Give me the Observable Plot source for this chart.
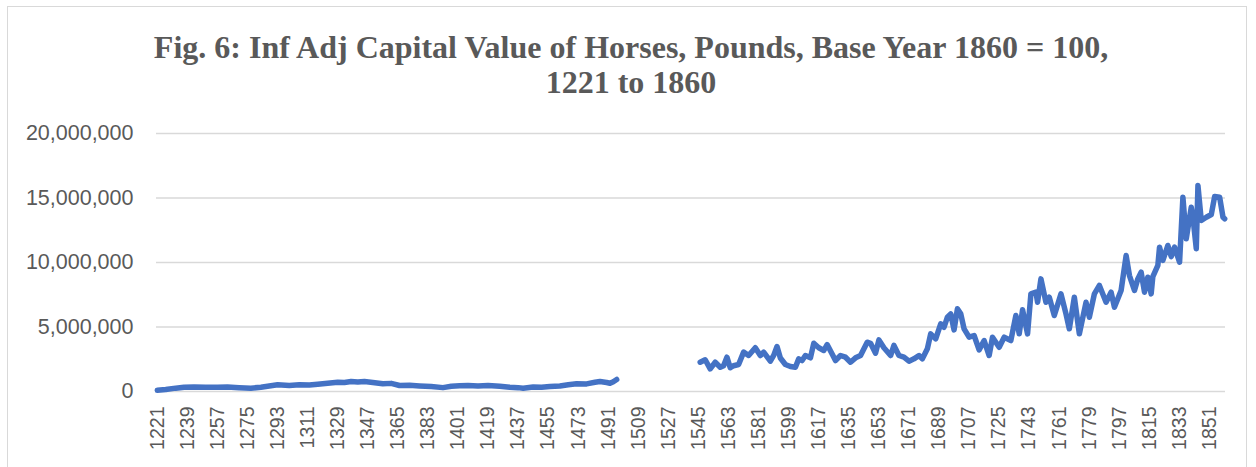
<!DOCTYPE html>
<html>
<head>
<meta charset="utf-8">
<script src="https://cdn.jsdelivr.net/npm/d3@7"></script>
<script src="https://cdn.jsdelivr.net/npm/@observablehq/plot@0.6"></script>
<style>
  html, body { margin: 0; padding: 0; background: #fff; }
  #wrap { position: relative; width: 1256px; height: 467px; overflow: hidden; }
  #frame { position: absolute; left: 7px; top: 6px; width: 1240px; height: 480px; border: 1px solid #d9d9d9; box-sizing: border-box; }
  #title { position: relative; height: 113px; box-sizing: border-box; padding-top: 30px; text-align: center;
           font-family: "Liberation Serif", "Times New Roman", serif; font-weight: bold; font-size: 32px;
           line-height: 35px; color: #595959; padding-left: 6px; white-space: nowrap; }
  #chart { position: relative; }
</style>
</head>
<body>
<div id="wrap">
  <div id="frame"></div>
  <div id="title">Fig. 6: Inf Adj Capital Value of Horses, Pounds, Base Year 1860 = 100,<br>1221 to 1860</div>
  <div id="chart"></div>
</div>
<script>
// Tick labels
const xTickYears = [1221,1239,1257,1275,1293,1311,1329,1347,1365,1383,1401,1419,1437,1455,1473,1491,1509,1527,1545,1563,1581,1599,1617,1635,1653,1671,1689,1707,1725,1743,1761,1779,1797,1815,1833,1851];
const yTickValues = [0, 5000000, 10000000, 15000000, 20000000];

// Series, segment 1 (1221-1496)
const years1 = [1221,1226,1232,1237,1243,1250,1257,1263,1270,1277,1283,1288,1293,1300,1306,1312,1317,1323,1329,1333,1337,1341,1345,1350,1356,1361,1366,1372,1378,1385,1392,1397,1402,1407,1413,1419,1426,1432,1437,1440,1446,1451,1456,1462,1467,1472,1478,1483,1486,1490,1492,1494,1496];
const values1 = [100000,150000,260000,330000,340000,320000,330000,350000,300000,260000,330000,420000,520000,470000,520000,500000,570000,640000,720000,700000,775000,730000,775000,700000,600000,630000,465000,480000,430000,380000,300000,400000,440000,465000,420000,470000,410000,330000,300000,260000,350000,330000,390000,420000,520000,600000,590000,720000,775000,700000,640000,760000,930000];

// Series, segment 2 (1546-1860)
const years2 = [1546,1549,1552,1555,1558,1560,1562,1564,1566,1569,1572,1575,1579,1582,1584,1588,1590,1592,1594,1597,1600,1603,1605,1607,1609,1612,1614,1617,1620,1622,1625,1627,1630,1633,1636,1639,1642,1646,1648,1651,1653,1656,1660,1662,1665,1668,1671,1674,1677,1679,1682,1684,1687,1690,1692,1694,1696,1698,1700,1702,1704,1707,1710,1713,1716,1719,1721,1725,1728,1732,1735,1737,1739,1742,1744,1747,1748,1750,1753,1755,1758,1762,1765,1767,1770,1773,1777,1779,1782,1785,1789,1792,1794,1798,1801,1803,1806,1808,1810,1812,1814,1816,1817,1820,1821,1823,1826,1828,1830,1833,1835,1837,1840,1841,1843,1844,1846,1849,1852,1854,1857,1859,1860];
const values2 = [2270000,2460000,1760000,2270000,1880000,2000000,2660000,1840000,2000000,2090000,3050000,2790000,3390000,2790000,3050000,2350000,2800000,3490000,2600000,2090000,1940000,1880000,2530000,2400000,2790000,2610000,3740000,3390000,3180000,3640000,2900000,2400000,2790000,2660000,2270000,2610000,2790000,3820000,3740000,2970000,4000000,3390000,2790000,3570000,2790000,2660000,2350000,2530000,2790000,2530000,3310000,4470000,4080000,5250000,4980000,5760000,6020000,4780000,6410000,6020000,4860000,4210000,4340000,3230000,3950000,2790000,4210000,3430000,4210000,3950000,5890000,4470000,6330000,4470000,7570000,7700000,6920000,8730000,6920000,7310000,5890000,7570000,6020000,4860000,7310000,4470000,6920000,5760000,7570000,8220000,6920000,7700000,6530000,7830000,10540000,8990000,7830000,8730000,9250000,7700000,8860000,7570000,8910000,9770000,11190000,10160000,11320000,10460000,11190000,10020000,15060000,11840000,14290000,13510000,11060000,15970000,13260000,13510000,13720000,15120000,15060000,13510000,13390000];

const seg1 = years1.map((year, i) => ({year, value: values1[i]}));
const seg2 = years2.map((year, i) => ({year, value: values2[i]}));

const lineStyle = {x: "year", y: "value", stroke: "#4472C4", strokeWidth: 5.5, strokeLinejoin: "round", strokeLinecap: "round"};

const chart = Plot.plot({
  width: 1256,
  height: 354,
  marginLeft: 156,
  marginRight: 31,
  marginTop: 20,
  marginBottom: 76,
  style: {fontFamily: "'Liberation Sans', Arial, sans-serif", color: "#595959", background: "transparent", overflow: "visible"},
  x: {domain: [1220.5, 1860.5]},
  y: {domain: [0, 20000000]},
  marks: [
    Plot.gridY(yTickValues, {stroke: "#d9d9d9", strokeOpacity: 1, strokeWidth: 1.5}),
    Plot.axisY(yTickValues, {tickSize: 0, tickPadding: 23, tickFormat: d3.format(","), fontSize: 21.5, label: null, fill: "#595959"}),
    Plot.axisX(xTickYears, {tickSize: 0, tickPadding: 15, tickRotate: -90, tickFormat: d => String(d), fontSize: 19.5, label: null, fill: "#595959"}),
    Plot.line(seg1, lineStyle),
    Plot.line(seg2, lineStyle)
  ]
});
document.getElementById("chart").appendChild(chart);
</script>
</body>
</html>
